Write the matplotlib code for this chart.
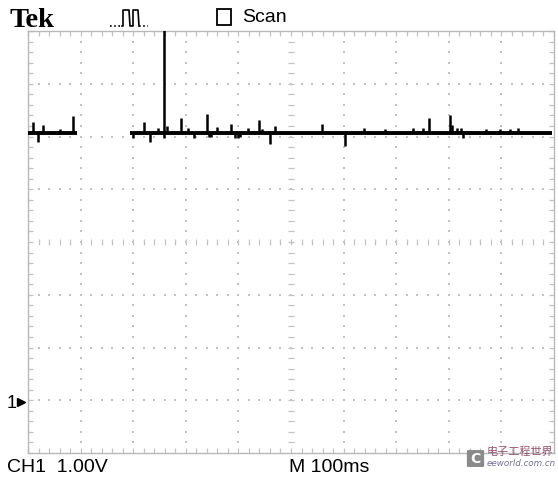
import numpy as np
import matplotlib
matplotlib.use("Agg")
import matplotlib.pyplot as plt
from matplotlib.patches import Rectangle, FancyBboxPatch
from matplotlib.lines import Line2D

# ---- data (time in ms, voltage in V relative to ground) ----
baseline_v = 5.06
seg_start = [0, 194]
seg_end = [93, 996]
spike_t = [9.5, 19, 28.5, 61, 85.5, 200, 220.5, 232, 247, 258.5, 258.5, 264, 291, 304, 315.5,
           340, 344, 348, 359, 386, 393.5, 399, 403, 418, 439, 445, 460, 469.5,
           559, 602.5, 639, 679, 732, 751, 762, 802, 806, 815, 823, 827, 871, 897, 916, 931.5]
spike_v = [5.27, 4.89, 5.21, 5.14, 5.38, 4.97, 5.27, 4.89, 5.16, 7.6, 4.97, 5.19, 5.35, 5.16, 4.97,
           5.42, 5.00, 5.00, 5.18, 5.23, 4.97, 4.97, 5.00, 5.16, 5.31, 5.14, 4.85, 5.19,
           5.23, 4.82, 5.16, 5.14, 5.16, 5.16, 5.35, 5.40, 5.21, 5.16, 5.16, 4.97, 5.14, 5.14, 5.14, 5.16]
x_range = (0, 1000)   # 10 div x 100 ms
y_range = (-1, 7)     # 8 div x 1 V, ground at 0 V
ch_label = "CH1  1.00V"
time_label = "M 100ms"

W, H = 558, 485
fig = plt.figure(figsize=(W / 100, H / 100), dpi=100)
fig.patch.set_facecolor("white")

def fx(x):
    return x / W

def fy(y):
    return 1 - y / H

L, R, T, B = 28, 554, 32, 454
ax = fig.add_axes([fx(L), fy(B), (R - L) / W, (B - T) / H])
ax.set_xlim(*x_range)
ax.set_ylim(*y_range)
grid_c = "#c2c2c2"
for s in ax.spines.values():
    s.set_color("#b8b8b8")
    s.set_linewidth(1.0)

xt = np.arange(x_range[0], x_range[1] + 1e-6, 20)
yt = np.arange(y_range[0], y_range[1] + 1e-6, 0.2)
ax.set_xticks(xt)
ax.set_yticks(yt)
ax.set_xticklabels([])
ax.set_yticklabels([])
ax.tick_params(direction="in", length=3.5, width=0.9, color=grid_c,
               top=True, right=True, bottom=True, left=True)

# dotted graticule
xmaj = [v for v in range(100, 1000, 100) if v != 500]
ymaj = [v for v in range(0, 7) if v != 3]
for xv in xmaj:
    ax.plot(np.full(len(yt[1:-1]), xv), yt[1:-1], ls="none", marker="s",
            ms=1.5, mew=0, color=grid_c, zorder=1)
for yv in ymaj:
    ax.plot(xt[1:-1], np.full(len(xt[1:-1]), yv), ls="none", marker="s",
            ms=1.5, mew=0, color=grid_c, zorder=1)
# center cross with ticks
ax.plot(np.full(len(yt[1:-1]), 500), yt[1:-1], ls="none", marker="_",
        ms=5, mew=0.9, color=grid_c, zorder=1)
ax.plot(xt[1:-1], np.full(len(xt[1:-1]), 3), ls="none", marker="|",
        ms=5, mew=0.9, color=grid_c, zorder=1)

# trace
ax.hlines([baseline_v] * len(seg_start), seg_start, seg_end, colors="black", lw=2.8, zorder=3)
ax.vlines(spike_t, baseline_v, spike_v, colors="black", lw=1.8, zorder=3)

# header
fig.text(fx(9), fy(27), "Tek", fontsize=20.5, fontweight="bold",
         family="Liberation Serif", ha="left", va="baseline")
px = [110, 122, 123, 123, 129, 130, 133, 133, 138, 139, 148]
py = [27, 27, 27, 11, 11, 27, 27, 11, 11, 27, 27]
fig.add_artist(Line2D([fx(110), fx(122)], [fy(27), fy(27)], color="black",
                      lw=1.2, ls=(0, (1, 1.5))))
fig.add_artist(Line2D([fx(v) for v in px[1:-1]], [fy(v) for v in py[1:-1]],
                      color="black", lw=1.2))
fig.add_artist(Line2D([fx(139), fx(148)], [fy(27), fy(27)], color="black",
                      lw=1.2, ls=(0, (1, 1.5))))
fig.add_artist(Rectangle((fx(217), fy(26)), 14 / W, 16 / H, fill=False,
                         edgecolor="black", lw=1.3, transform=fig.transFigure))
fig.text(fx(242), fy(17.5), "Scan", fontsize=14, family="Liberation Sans",
         ha="left", va="center")

# ground marker
fig.text(fx(7), fy(403), "1", fontsize=13, family="Liberation Sans",
         ha="left", va="center")
fig.add_artist(Line2D([fx(21)], [fy(403)], marker=">", ms=6, color="black",
                      transform=fig.transFigure))

# footer
fig.text(fx(7), fy(468), ch_label, fontsize=14, family="Liberation Sans",
         ha="left", va="center")
fig.text(fx(289), fy(468), time_label, fontsize=14, family="Liberation Sans",
         ha="left", va="center")

# watermark
fig.add_artist(FancyBboxPatch((fx(468), fy(467)), 15 / W, 15 / H,
                              boxstyle="round,pad=0.002", facecolor="#8a8a8a",
                              edgecolor="none", transform=fig.transFigure))
fig.text(fx(475.5), fy(459.5), "C", fontsize=10, fontweight="bold", color="white",
         family="DejaVu Sans", ha="center", va="center")
fig.text(fx(487), fy(452), "电子工程世界", fontsize=8, color="#8a3a5a",
         family=["Noto Sans CJK SC", "DejaVu Sans"], ha="left", va="center", alpha=0.85)
fig.text(fx(487), fy(464), "eeworld.com.cn", fontsize=6.3, color="#5a5a8a",
         family="DejaVu Sans", style="italic", ha="left", va="center", alpha=0.85)

fig.savefig("out.png", dpi=100, facecolor="white")
